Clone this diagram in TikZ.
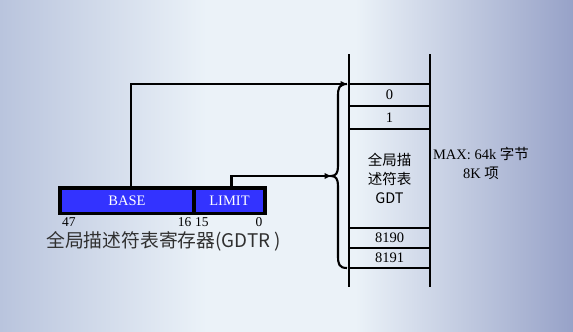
\documentclass[tikz,border=0pt]{standalone}
\usepackage{fontspec}
\setmainfont{Liberation Serif}
\newfontfamily\cjk{Noto Sans CJK SC}
\usetikzlibrary{arrows.meta}

\definecolor{bgL}{HTML}{B9C4DD}
\definecolor{bgC}{HTML}{EBF2F8}
\definecolor{bgR}{HTML}{97A2C8}
\definecolor{regblue}{HTML}{3333FF}
\definecolor{captiongray}{HTML}{303030}

% soft backdrop, light in the middle and bluish towards the sides
\pgfdeclarehorizontalshading{backdrop}{100bp}{color(0bp)=(bgL); color(25bp)=(bgL); color(43bp)=(bgC); color(56bp)=(bgC); color(75bp)=(bgR); color(100bp)=(bgR)}

\tikzset{
  colline/.style={line width=2.8pt},
  regcell/.style={draw, line width=3.2pt, fill=regblue, text=white, outer sep=0pt,
    minimum height=25.5pt, inner sep=0pt, font=\fontsize{14.5}{16}\selectfont},
  tcell/.style={draw, line width=2.8pt, minimum width=81pt, outer sep=0pt, inner sep=0pt,
    anchor=north, font=\fontsize{14.5}{18.7}\selectfont, align=center},
  bitno/.style={inner sep=0pt, font=\fontsize{13.5}{15}\selectfont},
  link/.style={line width=2.4pt, -{Triangle[length=6.5pt,width=5.5pt]}},
  braceline/.style={line width=2.1pt},
}

\begin{document}
\begin{tikzpicture}[x=1pt, y=-1pt]
  \useasboundingbox (0,0) rectangle (573,332);
  \shade[shading=backdrop] (0,0) rectangle (573,332);

  % descriptor table column
  \draw[colline] (349,54) -- (349,287);
  \draw[colline] (430,54) -- (430,287);
  \node[tcell, minimum height=22pt] (c0) at (389.5,84) {0};
  \node[tcell, minimum height=23pt] (c1) at (c0.south) {1};
  \node[tcell, minimum height=99pt] (cmid) at (c1.south) {{\cjk 全局描}\\{\cjk 述符表}\\{\cjk GDT}};
  \node[tcell, minimum height=20pt] (c8190) at (cmid.south) {8190};
  \node[tcell, minimum height=20pt] (c8191) at (c8190.south) {8191};

  \node[align=center, inner sep=0pt, font=\fontsize{14.5}{19}\selectfont] (maxnote) at (481,163.5)
    {MAX: 64k {\cjk 字节}\\8K {\cjk 项}};

  % brace spanning the table
  \coordinate (btop) at (347,84);
  \coordinate (btip) at (331,176);
  \coordinate (bbot) at (347,268);
  \draw[braceline] (btop) .. controls (339,84) and (338,88) .. (338,96) -- (338,166)
    .. controls (338,173) and (336,176) .. (btip)
    .. controls (336,176) and (338,179) .. (338,186) -- (338,256)
    .. controls (338,264) and (339,268) .. (bbot);

  % GDTR register
  \node[regcell, minimum width=134pt, anchor=north west] (base) at (60,188) {BASE};
  \node[regcell, minimum width=71pt, anchor=north west] (limit) at (base.north east) {LIMIT};

  \node[bitno, anchor=west] (n47) at (62,222) {47};
  \node[bitno, anchor=east] (n16) at (191.5,222) {16};
  \node[bitno, anchor=west] (n15) at (195,222) {15};
  \node[bitno] (n0) at (259,222) {0};

  \node[anchor=west, inner sep=0pt, text=captiongray, font=\fontsize{18.8}{20}\selectfont] (caption)
    at (46,241.5) {\cjk 全局描述符表寄存器(GDTR )};

  % pointers from the register into the table
  \draw[link] ([xshift=4pt]base.north) |- (btop);
  \draw[link] ([xshift=2pt]limit.north) |- (btip);
\end{tikzpicture}
\end{document}
